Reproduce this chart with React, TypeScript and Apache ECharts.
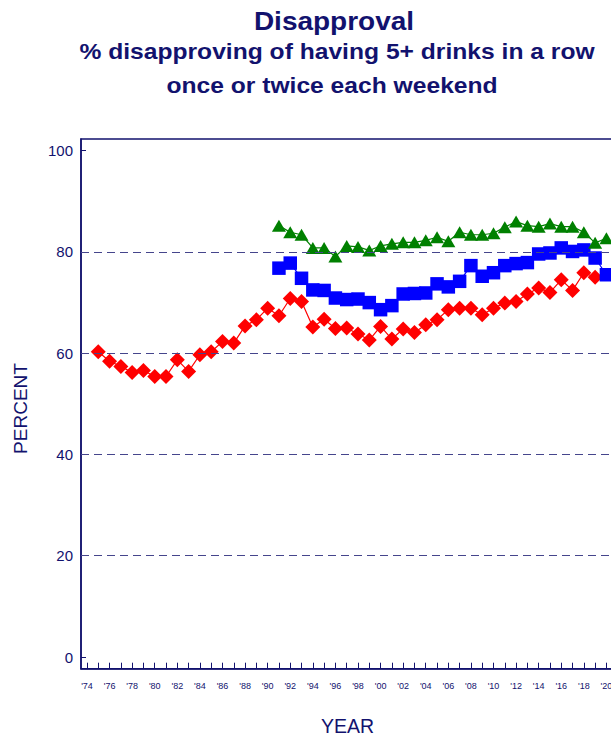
import React, { useEffect, useRef } from "react";
import * as echarts from "echarts";

const NAVY = "#12126e";
const FONT = "'Liberation Sans', Arial, Helvetica, sans-serif";

const redStartYear = 1975;
const redValues = [
  60.3, 58.4, 57.4, 56.2, 56.6, 55.4, 55.4, 58.7, 56.4, 59.7, 60.3, 62.3, 62.0, 65.4, 66.6, 68.9, 67.4, 70.8,
  70.2, 65.2, 66.7, 64.9, 65.0, 63.8, 62.6, 65.3, 62.8, 64.8, 64.1, 65.6, 66.6, 68.6, 68.9, 68.9, 67.6, 68.9,
  69.9, 70.2, 71.7, 72.9, 72.0, 74.5, 72.4, 75.9, 75.0,
];
const blueStartYear = 1991;
const blueValues = [
  76.8, 77.8, 74.8, 72.5, 72.4, 70.9, 70.6, 70.7, 70.0, 68.6, 69.4, 71.7, 71.8, 71.9, 73.7, 73.1, 74.2, 77.3,
  75.2, 75.9, 77.3, 77.7, 77.9, 79.6, 79.8, 80.8, 80.1, 80.4, 78.8, 75.5,
];
const greenStartYear = 1991;
const greenValues = [
  85.2, 83.9, 83.4, 80.8, 80.8, 79.1, 81.2, 81.0, 80.3, 81.2, 81.6, 81.9, 81.9, 82.3, 82.9, 82.1, 83.9, 83.4,
  83.4, 83.7, 84.9, 86.0, 85.2, 85.0, 85.6, 85.0, 85.0, 83.9, 81.8, 82.7,
];
const yTickValues = [0, 20, 40, 60, 80, 100];
const gridValues = [20, 40, 60, 80];
const xTickYears = Array.from({ length: 48 }, (_, i) => 1974 + i);
const xLabelYears = xTickYears.filter((y) => y % 2 === 0 && y <= 2020);

const pairs = (start: number, vals: number[]) => vals.map((v, i) => [start + i, v]);

export default function App() {
  const ref = useRef<HTMLDivElement>(null);
  useEffect(() => {
    if (!ref.current) return;
    const chart = echarts.init(ref.current, undefined, { renderer: "svg" });
    const common = { fontFamily: FONT, fill: NAVY, fontWeight: "bold" as const };
    chart.setOption({
      animation: false,
      backgroundColor: "#ffffff",
      graphic: [
        { type: "text", x: 334, y: 21.7, scaleX: 1.12, style: { ...common, text: "Disapproval", fontSize: 25, align: "center", verticalAlign: "middle" } },
        { type: "text", x: 337, y: 51.5, scaleX: 1.12, style: { ...common, text: "% disapproving of having 5+ drinks in a row", fontSize: 22, align: "center", verticalAlign: "middle" } },
        { type: "text", x: 332, y: 85.5, scaleX: 1.12, style: { ...common, text: "once or twice each weekend", fontSize: 22, align: "center", verticalAlign: "middle" } },
        { type: "text", x: 20, y: 408.5, rotation: Math.PI / 2, style: { fontFamily: FONT, fill: NAVY, text: "PERCENT", fontSize: 19, align: "center", verticalAlign: "middle" } },
        { type: "text", x: 347.5, y: 725.8, style: { fontFamily: FONT, fill: NAVY, text: "YEAR", fontSize: 19.5, align: "center", verticalAlign: "middle" } },
      ],
      grid: {
        left: 81,
        top: 139,
        width: 548,
        height: 529.7,
        show: true,
        borderColor: NAVY,
        borderWidth: 1.5,
        backgroundColor: "transparent",
      },
      xAxis: {
        type: "value",
        min: 1973.47,
        max: 2022,
        axisLine: { show: true, onZero: false, lineStyle: { color: NAVY, width: 1.5 } },
        axisTick: { show: true, inside: true, length: 6, customValues: xTickYears, lineStyle: { color: NAVY, width: 1 } },
        axisLabel: {
          show: true,
          customValues: xLabelYears,
          formatter: (v: number) => "'" + String(Math.round(v)).slice(2),
          color: NAVY,
          fontFamily: FONT,
          fontSize: 9,
          margin: 13,
        },
        splitLine: { show: false },
      },
      yAxis: {
        type: "value",
        min: -2.31,
        max: 102.31,
        axisLine: { show: true, onZero: false, lineStyle: { color: NAVY, width: 1.5 } },
        axisTick: { show: true, inside: true, length: 5, customValues: yTickValues, lineStyle: { color: NAVY, width: 1 } },
        axisLabel: {
          show: true,
          customValues: yTickValues,
          color: NAVY,
          fontFamily: FONT,
          fontSize: 15,
          margin: 8,
        },
        splitLine: { show: false },
      },
      series: [
        {
          type: "line",
          z: 1,
          data: [],
          silent: true,
          markLine: {
            silent: true,
            symbol: ["none", "none"],
            label: { show: false },
            lineStyle: { color: "#45458c", width: 1.2, type: [8, 5] },
            data: gridValues.map((v) => ({ yAxis: v })),
          },
        },
        {
          name: "red",
          type: "line",
          data: pairs(redStartYear, redValues),
          symbol: "diamond",
          symbolSize: [15, 15],
          itemStyle: { color: "#ff0000" },
          lineStyle: { color: "#ff0000", width: 1.2 },
          clip: false,
        },
        {
          name: "blue",
          type: "line",
          data: pairs(blueStartYear, blueValues),
          symbol: "rect",
          symbolSize: [13.5, 13.5],
          itemStyle: { color: "#0000ff" },
          lineStyle: { color: "#0000ff", width: 1.2 },
          clip: false,
        },
        {
          name: "green",
          type: "line",
          data: pairs(greenStartYear, greenValues),
          symbol: "triangle",
          symbolSize: [14, 12],
          itemStyle: { color: "#008000" },
          lineStyle: { color: "#008000", width: 1.2 },
          clip: false,
        },
      ],
    });
    return () => chart.dispose();
  }, []);
  return (
    <div style={{ position: "absolute", left: 0, top: 0, width: 611, height: 738, overflow: "hidden", background: "#fff" }}>
      <div ref={ref} style={{ width: 660, height: 738 }} />
    </div>
  );
}
